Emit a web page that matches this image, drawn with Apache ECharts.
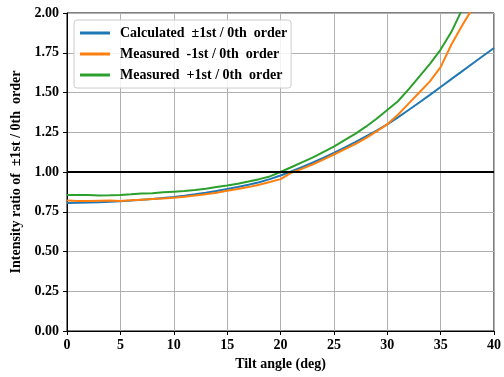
<!DOCTYPE html>
<html>
<head>
<meta charset="utf-8">
<script src="https://cdn.jsdelivr.net/npm/echarts@6/dist/echarts.min.js"></script>
<style>
  html, body { margin: 0; padding: 0; background: #fff; }
  #chart { width: 504px; height: 377px; }
</style>
</head>
<body>
<div id="chart"></div>
<script>
// tilt angles (deg)
const tilt = [0,1,2,3,4,5,6,7,8,9,10,11,12,13,14,15,16,17,18,19,20,
              21,22,23,24,25,26,27,28,29,30,31,32,33,34,35,36,37,38,39,40];
// calculated ±1st / 0th
const calculated = [0.805,0.806,0.808,0.81,0.813,0.816,0.82,0.825,0.83,0.836,0.843,
                    0.851,0.86,0.87,0.881,0.893,0.906,0.92,0.936,0.955,0.978,
                    1.003,1.03,1.058,1.088,1.12,1.153,1.188,1.224,1.261,1.3,
                    1.344,1.39,1.437,1.485,1.535,1.584,1.633,1.682,1.731,1.78];
// measured -1st / 0th
const measuredMinus = [0.82,0.818,0.818,0.819,0.82,0.818,0.822,0.826,0.83,0.834,0.838,
                       0.845,0.852,0.86,0.87,0.882,0.893,0.905,0.92,0.937,0.955,
                       0.995,1.02,1.047,1.078,1.11,1.142,1.176,1.213,1.255,1.3,
                       1.36,1.43,1.5,1.57,1.66,1.8,1.92,2.03,2.14,2.25];
// measured +1st / 0th
const measuredPlus = [0.855,0.855,0.855,0.852,0.853,0.856,0.86,0.865,0.866,0.872,0.876,
                      0.88,0.887,0.895,0.905,0.915,0.926,0.94,0.955,0.972,1.0,
                      1.03,1.06,1.09,1.125,1.16,1.2,1.24,1.285,1.335,1.39,
                      1.445,1.52,1.6,1.68,1.77,1.88,2.02,2.15,2.28,2.4];
const refLevel = 1.0;

const names = ['Calculated  \u00b11st / 0th  order',
               'Measured  -1st / 0th  order',
               'Measured  +1st / 0th  order'];
const colors = ['#1f77b4', '#ff7f0e', '#2ca02c'];
const font = 'Liberation Serif';

function pairs(ys) { return tilt.map((x, i) => [x, ys[i]]); }

const chart = echarts.init(document.getElementById('chart'));
chart.setOption({
  animation: false,
  grid: { left: 67, right: 9, top: 13, bottom: 46, show: true, borderColor: '#000', borderWidth: 1 },
  legend: {
    data: names,
    orient: 'vertical',
    left: 74, top: 20,
    itemWidth: 30, itemHeight: 3, itemGap: 7,
    icon: 'rect',
    padding: [6, 4, 6, 6],
    backgroundColor: 'rgba(255,255,255,0.85)',
    borderColor: '#ccc', borderWidth: 1, borderRadius: 3,
    textStyle: { fontFamily: font, fontWeight: 'bold', fontSize: 14, color: '#000', padding: [0, 0, 0, 5] }
  },
  xAxis: {
    type: 'value', min: 0, max: 40, interval: 5,
    name: 'Tilt angle (deg)', nameLocation: 'middle', nameGap: 26,
    nameTextStyle: { fontFamily: font, fontWeight: 'bold', fontSize: 14, color: '#000' },
    axisLine: { show: true, lineStyle: { color: '#000', width: 1 } },
    axisTick: { show: true, length: 4, lineStyle: { color: '#000' } },
    axisLabel: { fontFamily: font, fontWeight: 'bold', fontSize: 14, color: '#000', margin: 7 },
    splitLine: { show: true, lineStyle: { color: '#b0b0b0', width: 1 } }
  },
  yAxis: {
    type: 'value', min: 0, max: 2, interval: 0.25,
    name: 'Intensity ratio of  \u00b11st / 0th  order', nameLocation: 'middle', nameGap: 39,
    nameTextStyle: { fontFamily: font, fontWeight: 'bold', fontSize: 14, color: '#000' },
    axisLine: { show: true, lineStyle: { color: '#000', width: 1 } },
    axisTick: { show: true, length: 4, lineStyle: { color: '#000' } },
    axisLabel: { fontFamily: font, fontWeight: 'bold', fontSize: 14, color: '#000', margin: 8,
                 formatter: v => v.toFixed(2) },
    splitLine: { show: true, lineStyle: { color: '#b0b0b0', width: 1 } }
  },
  series: [
    { name: names[0], type: 'line', data: pairs(calculated), showSymbol: false, clip: true,
      lineStyle: { color: colors[0], width: 2 }, itemStyle: { color: colors[0] } },
    { name: names[1], type: 'line', data: pairs(measuredMinus), showSymbol: false, clip: true,
      lineStyle: { color: colors[1], width: 2 }, itemStyle: { color: colors[1] } },
    { name: names[2], type: 'line', data: pairs(measuredPlus), showSymbol: false, clip: true,
      lineStyle: { color: colors[2], width: 2 }, itemStyle: { color: colors[2] } },
    { name: 'ref', type: 'line', data: [[0, refLevel], [40, refLevel]], showSymbol: false,
      lineStyle: { color: '#000', width: 2 }, z: 3 }
  ]
});
</script>
</body>
</html>
